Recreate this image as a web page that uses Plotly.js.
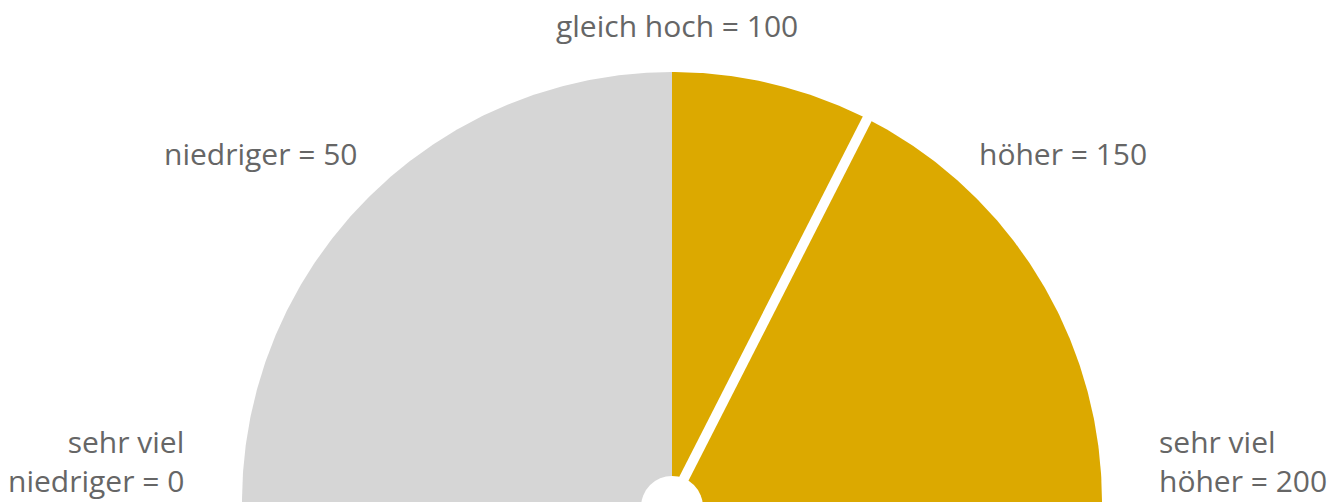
<!DOCTYPE html>
<html>
<head>
<meta charset="utf-8">
<script src="https://cdn.plot.ly/plotly-3.0.1.min.js"></script>
<style>html,body{margin:0;padding:0;background:#fff;}#chart{width:1340px;height:504px;}</style>
</head>
<body>
<div id="chart"></div>
<script>
// Scale (0 .. 200) and its labels
const tickValues = [0, 50, 100, 150, 200];
const tickLabels = ["sehr viel<br>niedriger = 0", "niedriger = 50", "gleich hoch = 100", "höher = 150", "sehr viel<br>höher = 200"];
// Coloured bands of the gauge
const bandStarts = [0, 100];
const bandEnds = [100, 200];
const bandColors = ["#d6d6d6", "#dca900"];
// Needle value
const needleValue = 130;

const scaleMax = 200;
function angleOf(v) { return Math.PI * (1 - v / scaleMax); }

const traces = [];
for (let b = 0; b < bandStarts.length; b++) {
  const xs = [0], ys = [0];
  const n = 240;
  for (let i = 0; i <= n; i++) {
    const v = bandStarts[b] + (bandEnds[b] - bandStarts[b]) * i / n;
    const a = angleOf(v);
    xs.push(Math.cos(a)); ys.push(Math.sin(a));
  }
  xs.push(0); ys.push(0);
  traces.push({
    type: "scatter", mode: "lines", x: xs, y: ys, fill: "toself",
    fillcolor: bandColors[b], line: {width: 0, color: bandColors[b]},
    hoverinfo: "skip", showlegend: false
  });
}
// needle
const na = angleOf(needleValue);
traces.push({
  type: "scatter", mode: "lines", x: [0, 1.1 * Math.cos(na)], y: [0, 1.1 * Math.sin(na)],
  line: {color: "#ffffff", width: 10}, hoverinfo: "skip", showlegend: false
});

// pixel geometry: center at (672, 502), radius 430 px
const W = 1340, H = 504, cx = 672, cy = 502, R = 430;
const xr = [-cx / R, (W - cx) / R];
const yr = [-(H - cy) / R, cy / R];

const labelFont = {family: "Open Sans, sans-serif", size: 30, color: "#666666"};
// label anchor points (pixels from the gauge centre), one per tick
const labelDx = [-487, -314, 5, 306, 486];
const labelDy = [41, 349, 477, 349, 41];
const annotations = [];
for (let i = 0; i < tickValues.length; i++) {
  let xanchor = "center";
  if (tickValues[i] < 100) xanchor = "right";
  if (tickValues[i] > 100) xanchor = "left";
  annotations.push({
    x: labelDx[i] / R, y: labelDy[i] / R, xref: "x", yref: "y", text: tickLabels[i], showarrow: false,
    xanchor: xanchor, yanchor: "middle", align: xanchor === "right" ? "right" : "left",
    font: labelFont, borderpad: 0
  });
}

const layout = {
  width: W, height: H,
  margin: {l: 0, r: 0, t: 0, b: 0},
  paper_bgcolor: "#ffffff", plot_bgcolor: "#ffffff",
  xaxis: {range: xr, visible: false, fixedrange: true},
  yaxis: {range: yr, visible: false, fixedrange: true},
  shapes: [{
    type: "circle", xref: "x", yref: "y",
    x0: -31 / R, x1: 31 / R, y0: -36 / R, y1: 26 / R,
    fillcolor: "#ffffff", line: {width: 0}, layer: "above"
  }],
  annotations: annotations,
  showlegend: false
};

Plotly.newPlot("chart", traces, layout, {displayModeBar: false, staticPlot: true});
</script>
</body>
</html>
